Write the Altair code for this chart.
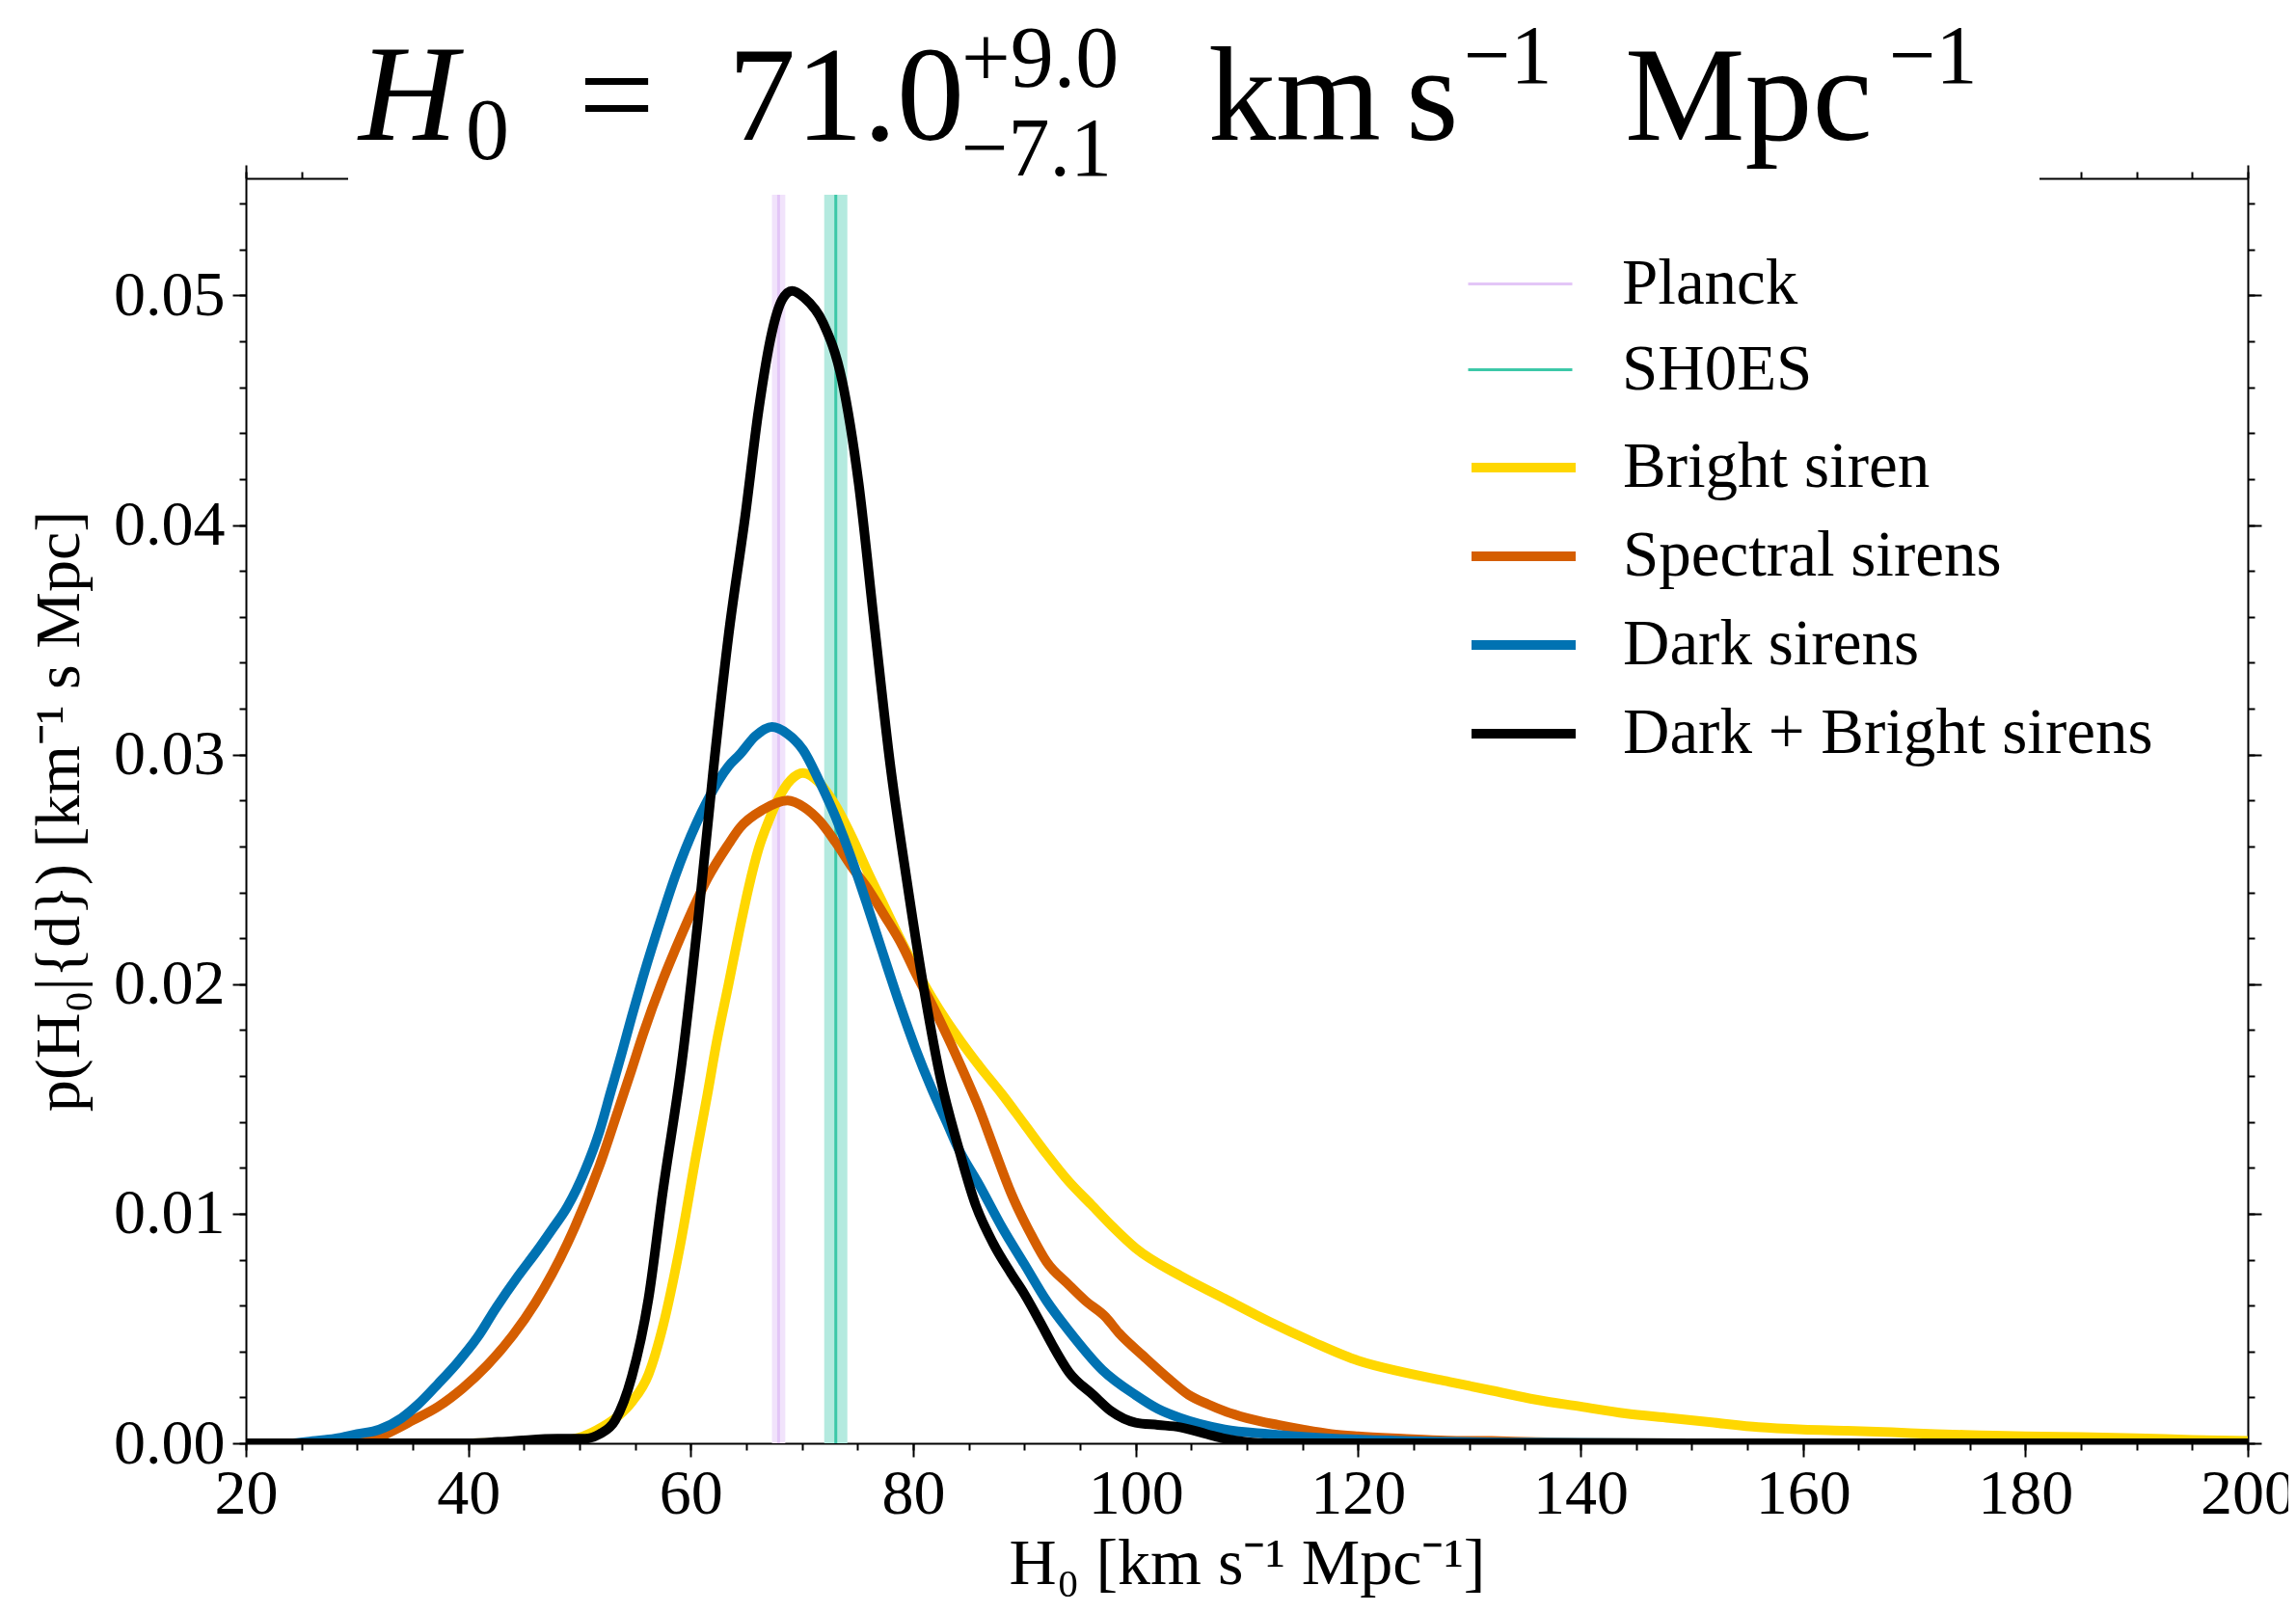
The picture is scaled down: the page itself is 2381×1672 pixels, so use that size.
import altair as alt
import pandas as pd

FONT = "Liberation Serif"

# ---------------- data ----------------
ref_names = ["Planck", "SH0ES"]
ref_colors = ["#e3c6f7", "#3cc8a8"]
ref_band_colors = ["#f1e3fb", "#b4eadf"]
curve_names = ["Bright siren", "Spectral sirens", "Dark sirens", "Dark + Bright sirens"]
curve_colors = ["#ffd700", "#d55e00", "#0072b2", "#000000"]

planck_h0, planck_err = 67.9, 0.6
shoes_h0, shoes_err = 73.04, 1.04

bright_x = [20, 40, 46, 48, 50.3, 52, 53.5, 54.7, 56.2, 57.5, 59, 60.5, 61.5, 62.3, 63.4, 64.4, 65.2, 66.1, 67, 67.8,
            69, 70.1, 71.5, 73, 74.5, 75.9, 77.4, 78.8, 80.3, 81.7, 83, 84.3, 86, 88, 90, 92, 94, 96, 98, 100,
            104, 108, 112, 116, 120, 124, 128, 132, 136, 140, 144, 148, 152, 156, 160, 164, 168, 172, 176, 180,
            185, 190, 195, 200]
bright_y = [0, 0, 0.00005, 0.0001, 0.0003, 0.0007, 0.0012, 0.0018, 0.003, 0.0051,
            0.0085, 0.0126, 0.0152, 0.0174, 0.0200, 0.0224, 0.0242, 0.0259, 0.0271, 0.028,
            0.0289, 0.0292, 0.0288, 0.0278, 0.0264, 0.0249, 0.0234, 0.022, 0.0206, 0.0194,
            0.0184, 0.0175, 0.0164, 0.0152, 0.0139, 0.0126, 0.0114, 0.0104, 0.0094, 0.0085,
            0.0073, 0.0063, 0.0053, 0.0044, 0.0036, 0.0031, 0.0027, 0.0023, 0.0019, 0.0016,
            0.0013, 0.0011, 0.0009, 0.0007, 0.0006, 0.00055, 0.00048, 0.0004, 0.00035, 0.0003,
            0.00027, 0.00022, 0.00015, 0.0001]

spectral_x = [20, 28, 31, 33, 35, 37.3, 39.5, 41.7, 44, 46, 48.9, 51.8, 53.4, 54.7, 55.7, 57.5, 58.6, 60.5, 61.5, 63.4,
              64.4, 66.5, 68.7, 70.2, 71.6, 73, 74.5, 76, 77.4, 79, 80.3, 81.7, 83.1, 84.5, 86, 87.3, 88.8, 90.7, 92, 94,
              95.5, 97.3, 98.5, 100.7, 103, 104.8, 106.5, 108, 110, 112.8, 115, 117.6, 120, 124, 128, 132, 136, 140, 150, 200]
spectral_y = [0, 0, 0.0001, 0.0005, 0.001, 0.0016, 0.0024, 0.0034, 0.0047, 0.0061,
              0.0087, 0.0121, 0.0144, 0.0163, 0.0178, 0.0202, 0.0215, 0.0236, 0.0246, 0.0261,
              0.0268, 0.0276, 0.028, 0.0277, 0.0271, 0.0262, 0.0251, 0.0241, 0.023, 0.0217,
              0.0204, 0.0191, 0.0177, 0.0162, 0.0145, 0.0128, 0.0109, 0.0090, 0.0079, 0.0069,
              0.0062, 0.0055, 0.0048, 0.0038, 0.0028, 0.0021, 0.0017, 0.0014, 0.0011, 0.0008,
              0.0006, 0.0004, 0.0003, 0.0002, 0.00012, 0.0001, 0.00005, 0.00002, 0, 0]

dark_x = [20, 24, 26, 28, 30, 32, 34, 35.5, 37.3, 39, 40.8, 42.5, 44.5, 46.2, 47.5, 48.9, 50.5, 51.8, 52.8, 53.8,
          54.7, 55.7, 57.5, 58.6, 60.5, 61.5, 63.4, 64.4, 65.8, 67.3, 68.7, 70.1, 71.5, 73, 74.5, 75.9, 77.3, 78.8, 80.2, 81.7,
          83, 84, 86, 88, 90, 92, 94, 97, 100, 102, 104, 108, 112, 116, 124, 135, 150, 200]
dark_y = [0, 0, 0.0001, 0.0002, 0.0004, 0.0006, 0.0011, 0.0017, 0.0026, 0.0035,
          0.0046, 0.0059, 0.0073, 0.0084, 0.0093, 0.0103, 0.0119, 0.0136, 0.0153, 0.0170,
          0.0186, 0.0203, 0.0231, 0.0247, 0.027, 0.028, 0.0295, 0.030, 0.0308, 0.0312,
          0.0309, 0.0302, 0.0289, 0.0273, 0.0254, 0.0234, 0.0213, 0.0191, 0.0172, 0.0154,
          0.014, 0.0129, 0.0112, 0.0094, 0.0078, 0.0062, 0.0049, 0.0032, 0.0021, 0.0015,
          0.0011, 0.0006, 0.0004, 0.00025, 0.0001, 0.00003, 0, 0]

combined_x = [20, 40, 44, 48, 50.5, 51.8, 53.2, 54.7, 56.2, 57.5, 59.2, 60.7, 62, 63.4, 64.9, 66.1, 67.3, 68.2, 69.1, 70.2,
              71.9, 73.6, 75.1, 76.5, 77.9, 79.4, 81.1, 82.5, 84, 85.6, 87.2, 88.8, 90, 91.5, 92.5, 94, 96.2, 97.8, 100, 102,
              104, 106.4, 108, 110, 112, 200]
combined_y = [0, 0, 0.0001, 0.0002, 0.0002, 0.0004, 0.001, 0.0029, 0.0063, 0.0110,
              0.0166, 0.0230, 0.0292, 0.0352, 0.0404, 0.0450, 0.0484, 0.0498, 0.0502, 0.0499,
              0.0488, 0.0463, 0.0418, 0.0357, 0.0297, 0.0246, 0.0194, 0.0158, 0.0130, 0.0104,
              0.0087, 0.0074, 0.0065, 0.0052, 0.0043, 0.0031, 0.0021, 0.0014, 0.0009, 0.0008,
              0.0007, 0.0004, 0.0002, 0.00005, 0, 0]

x_major = list(range(20, 201, 20))
x_minor = list(range(20, 201, 5))
y_major = [0.0, 0.01, 0.02, 0.03, 0.04, 0.05]
y_minor = [round(i * 0.002, 3) for i in range(0, 28)]

# ---------------- tables ----------------
rows = []
for name, xs, ys in [("Bright siren", bright_x, bright_y),
                     ("Spectral sirens", spectral_x, spectral_y),
                     ("Dark sirens", dark_x, dark_y),
                     ("Dark + Bright sirens", combined_x, combined_y)]:
    for i, (a, b) in enumerate(zip(xs, ys)):
        rows.append({"series": name, "H0": a, "p": b, "order": i})
curves = pd.DataFrame(rows)

refs = pd.DataFrame({
    "series": ref_names,
    "center": [planck_h0, shoes_h0],
    "lo": [planck_h0 - planck_err, shoes_h0 - shoes_err],
    "hi": [planck_h0 + planck_err, shoes_h0 + shoes_err],
})

# ---------------- layout ----------------
W, H = 2076, 1312
PAD_L, PAD_T = 247, 177
xscale = alt.Scale(domain=[20, 200], nice=False, zero=False)
yscale = alt.Scale(domain=[0, 0.0551], nice=False, zero=False)

common = dict(tickColor="black", tickWidth=2, domainColor="black", domainWidth=2, grid=False,
              labelFont=FONT, labelColor="black", titleFont=FONT, titleColor="black",
              titleFontWeight="normal")

ax_x_main = alt.Axis(orient="bottom", values=x_major, tickSize=14, labelFontSize=66, labelPadding=6,
                     labelFlush=False, labelOverlap=False, title="H₀ [km s⁻¹ Mpc⁻¹]",
                     titleFontSize=68, titlePadding=6, **common)
ax_x_minor = alt.Axis(orient="bottom", values=x_minor, tickSize=7, labels=False, domain=False,
                      title=None, **common)
ax_x_top = alt.Axis(orient="top", values=x_major, tickSize=14, labels=False, title=None, **common)
ax_x_top_minor = alt.Axis(orient="top", values=x_minor, tickSize=7, labels=False, domain=False,
                          title=None, **common)

ax_y_main = alt.Axis(orient="left", values=y_major, format=".2f", tickSize=14, labelFontSize=66,
                     labelPadding=8, labelFlush=False, labelOverlap=False,
                     title="p(H₀|{d}) [km⁻¹ s Mpc]", titleFontSize=66, titlePadding=22, **common)
ax_y_minor = alt.Axis(orient="left", values=y_minor, tickSize=7, labels=False, domain=False,
                      title=None, **common)
ax_y_right = alt.Axis(orient="right", values=y_major, tickSize=14, labels=False, title=None, **common)
ax_y_right_minor = alt.Axis(orient="right", values=y_minor, tickSize=7, labels=False, domain=False,
                            title=None, **common)

legend_common = dict(orient="none", title=None, symbolType="stroke", symbolSize=11664,
                     labelFont=FONT, labelFontSize=67, labelColor="black", labelLimit=1000,
                     rowPadding=0, padding=0, symbolOpacity=1)
legend_refs = alt.Legend(legendX=1266, legendY=54, symbolStrokeWidth=3, labelOffset=50, **legend_common)
legend_curves = alt.Legend(legendX=1266, legendY=241, symbolStrokeWidth=10, labelOffset=44, **legend_common)

planck_band = alt.Chart(refs[refs.series == "Planck"]).mark_rect(color=ref_band_colors[0]).encode(
    x=alt.X("lo:Q", scale=xscale, axis=None), x2="hi:Q")
shoes_band = alt.Chart(refs[refs.series == "SH0ES"]).mark_rect(color=ref_band_colors[1]).encode(
    x=alt.X("lo:Q", scale=xscale, axis=None), x2="hi:Q")

center_rules = alt.Chart(refs).mark_rule(strokeWidth=3).encode(
    x=alt.X("center:Q", scale=xscale, axis=None),
    color=alt.Color("series:N", scale=alt.Scale(domain=ref_names, range=ref_colors), legend=legend_refs),
)

lines = alt.Chart(curves).mark_line(interpolate="monotone", clip=True, strokeWidth=10,
                                    strokeJoin="round").encode(
    x=alt.X("H0:Q", scale=xscale, axis=ax_x_main),
    y=alt.Y("p:Q", scale=yscale, axis=ax_y_main),
    color=alt.Color("series:N", scale=alt.Scale(domain=curve_names, range=curve_colors),
                    legend=legend_curves),
    order="order:Q",
)


def ghost(ax_x, ax_y):
    return alt.Chart(curves).mark_line(strokeOpacity=0).encode(
        x=alt.X("H0:Q", scale=xscale, axis=ax_x),
        y=alt.Y("p:Q", scale=yscale, axis=ax_y),
    )


white_box = alt.Chart(alt.Data(values=[{"a": 1}])).mark_rect(color="white").encode(
    x=alt.value(106), x2=alt.value(1860), y=alt.value(-PAD_T), y2=alt.value(17))

# title pieces: (text, x, baseline y, font size, style) in plot-area pixels
title_pieces = [
    ("H", 117, -40, 142, "italic"),
    ("0", 228, -20, 90, "normal"),
    ("=", 345, -40, 140, "normal"),
    ("71.0", 500, -40, 140, "normal"),
    ("+9.0", 742, -95, 90, "normal"),
    ("−7.1", 742, -3, 86, "normal"),
    ("km", 998, -40, 140, "normal"),
    ("s", 1203, -40, 140, "normal"),
    ("−1", 1263, -99, 86, "normal"),
    ("Mpc", 1430, -40, 140, "normal"),
    ("−1", 1704, -99, 86, "normal"),
]
title_layers = []
for txt, px, py, fs, st in title_pieces:
    title_layers.append(
        alt.Chart(alt.Data(values=[{"t": txt}])).mark_text(
            align="left", baseline="alphabetic", font=FONT, fontSize=fs, fontStyle=st, color="black"
        ).encode(x=alt.value(px), y=alt.value(py), text="t:N")
    )

chart = alt.layer(
    planck_band, shoes_band, center_rules, lines,
    ghost(ax_x_minor, ax_y_minor),
    ghost(ax_x_top, ax_y_right),
    ghost(ax_x_top_minor, ax_y_right_minor),
    white_box, *title_layers,
).resolve_scale(x="shared", y="shared", color="independent").resolve_axis(
    x="independent", y="independent"
).properties(
    width=W, height=H,
    autosize=alt.AutoSizeParams(type="none"),
    padding={"left": PAD_L, "top": PAD_T, "right": 42, "bottom": 170},
).configure_view(stroke=None).configure(background="white")

chart.save("out.html", embed_options={"renderer": "svg", "actions": False})
